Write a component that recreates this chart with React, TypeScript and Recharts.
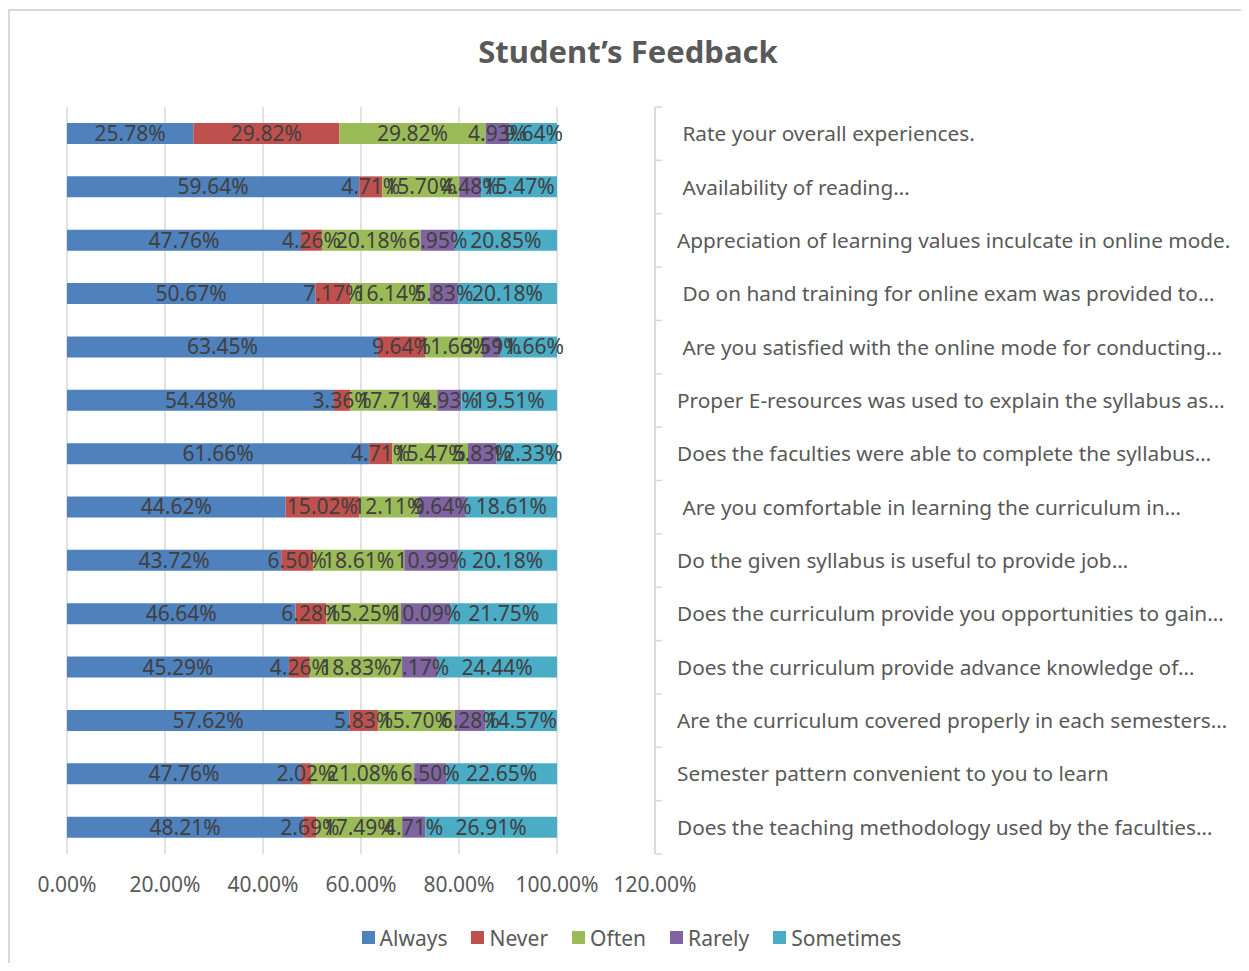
import React from 'react';
import { BarChart, Bar, XAxis, YAxis, CartesianGrid, LabelList, Legend } from 'recharts';

const categories = [
  ' Rate your overall experiences.',
  ' Availability of reading…',
  'Appreciation of learning values inculcate in online mode.',
  ' Do on hand training for online exam was provided to…',
  ' Are you satisfied with the online mode for conducting…',
  'Proper E-resources was used to explain the syllabus as…',
  'Does the faculties were able to complete the syllabus…',
  ' Are you comfortable in learning the curriculum in…',
  'Do the given syllabus is useful to provide job…',
  'Does the curriculum provide you opportunities to gain…',
  'Does the curriculum provide advance knowledge of…',
  'Are the curriculum covered properly in each semesters…',
  'Semester pattern convenient to you to learn',
  'Does the teaching methodology used by the faculties…',
];

const always = [25.78, 59.64, 47.76, 50.67, 63.45, 54.48, 61.66, 44.62, 43.72, 46.64, 45.29, 57.62, 47.76, 48.21];
const never = [29.82, 4.71, 4.26, 7.17, 9.64, 3.36, 4.71, 15.02, 6.5, 6.28, 4.26, 5.83, 2.02, 2.69];
const often = [29.82, 15.7, 20.18, 16.14, 11.66, 17.71, 15.47, 12.11, 18.61, 15.25, 18.83, 15.7, 21.08, 17.49];
const rarely = [4.93, 4.48, 6.95, 5.83, 3.59, 4.93, 5.83, 9.64, 10.99, 10.09, 7.17, 6.28, 6.5, 4.71];
const sometimes = [9.64, 15.47, 20.85, 20.18, 11.66, 19.51, 12.33, 18.61, 20.18, 21.75, 24.44, 14.57, 22.65, 26.91];

const xTicks = [0, 20, 40, 60, 80, 100, 120];

const seriesNames = ['Always', 'Never', 'Often', 'Rarely', 'Sometimes'];
const seriesColors = ['#4f81bd', '#c0504d', '#9bbb59', '#8064a2', '#4bacc6'];
const seriesValues = [always, never, often, rarely, sometimes];

const data = categories.map((name, i) => {
  const row: Record<string, any> = { name };
  seriesNames.forEach((s, k) => {
    row[s] = seriesValues[k][i];
  });
  return row;
});

const FONT = '"Noto Sans", sans-serif';
const CHART_W = 1235;
const CHART_H = 952;
const MARGIN = { top: 96, right: 10, left: 57, bottom: 10.5 };
const LEGEND_H = 30;
const X_AXIS_H = 68.5;
const Y_AXIS_W = 580;
const PLOT_H = CHART_H - MARGIN.top - MARGIN.bottom - LEGEND_H - X_AXIS_H;
const BAND = PLOT_H / categories.length;
const GRID = '#d9d9d9';

const fmt = (v: any) => `${Number(v).toFixed(2)}%`;

const XTick = (props: any) => {
  const { x, y, payload } = props;
  return (
    <text x={x} y={y + 38} textAnchor="middle" fill="#595959" fontSize={21} fontFamily={FONT}>
      {fmt(payload.value)}
    </text>
  );
};

const YTick = (props: any) => {
  const { x, y, payload } = props;
  const index = props.index ?? payload.index;
  const label = String(payload.value).replace(/^ /, '\u00a0');
  return (
    <g>
      <line x1={x} x2={x + 7} y1={y - BAND / 2} y2={y - BAND / 2} stroke={GRID} strokeWidth={1.5} />
      {index === categories.length - 1 && (
        <line x1={x} x2={x + 7} y1={y + BAND / 2} y2={y + BAND / 2} stroke={GRID} strokeWidth={1.5} />
      )}
      <text x={x + 22} y={y} dy="0.36em" fill="#595959" fontSize={20.8} fontFamily={FONT}>
        {label}
      </text>
    </g>
  );
};

const renderLegend = (props: any) => {
  const payload = props.payload || [];
  return (
    <div
      style={{
        display: 'flex',
        justifyContent: 'center',
        alignItems: 'center',
        height: LEGEND_H,
        paddingLeft: 8,
        gap: 24,
        fontFamily: FONT,
        fontSize: 21,
        color: '#595959',
      }}
    >
      {payload.map((p: any) => (
        <div key={p.value} style={{ display: 'flex', alignItems: 'center' }}>
          <span style={{ display: 'inline-block', width: 13, height: 13, background: p.color, marginRight: 5 }} />
          <span>{p.value}</span>
        </div>
      ))}
    </div>
  );
};

export default function App() {
  return (
    <div
      style={{
        position: 'relative',
        marginTop: 1,
        width: 1239,
        height: 954,
        boxSizing: 'border-box',
        borderTop: `2px solid ${GRID}`,
        borderLeft: `2px solid ${GRID}`,
        borderRight: `2px solid ${GRID}`,
        background: '#fff',
      }}
    >
      <BarChart width={CHART_W} height={CHART_H} data={data} layout="vertical" margin={MARGIN}>
        <CartesianGrid horizontal={false} stroke={GRID} strokeWidth={1.5} />
        <XAxis
          type="number"
          domain={[0, 120]}
          ticks={xTicks}
          interval={0}
          axisLine={false}
          tickLine={false}
          tickSize={0}
          tickMargin={0}
          height={X_AXIS_H}
          tick={<XTick />}
        />
        <YAxis
          type="category"
          dataKey="name"
          orientation="right"
          width={Y_AXIS_W}
          axisLine={{ stroke: GRID, strokeWidth: 1.5 }}
          tickLine={false}
          tickSize={0}
          tickMargin={0}
          interval={0}
          tick={<YTick />}
        />
        <Legend
          verticalAlign="bottom"
          height={LEGEND_H}
          content={renderLegend}
          wrapperStyle={{ left: 0, width: CHART_W }}
        />
        {seriesNames.map((s, k) => (
          <Bar key={s} dataKey={s} stackId="a" fill={seriesColors[k]} barSize={21} isAnimationActive={false}>
            <LabelList dataKey={s} position="center" formatter={fmt} fill="#404040" fontSize={21} fontFamily={FONT} />
          </Bar>
        ))}
      </BarChart>
      <svg
        width={CHART_W}
        height={100}
        style={{ position: 'absolute', left: 0, top: 0, pointerEvents: 'none' }}
      >
        <text x={618} y={52} textAnchor="middle" fill="#595959" fontSize={31} fontWeight="bold" fontFamily={FONT}>
          Student’s Feedback
        </text>
      </svg>
    </div>
  );
}
